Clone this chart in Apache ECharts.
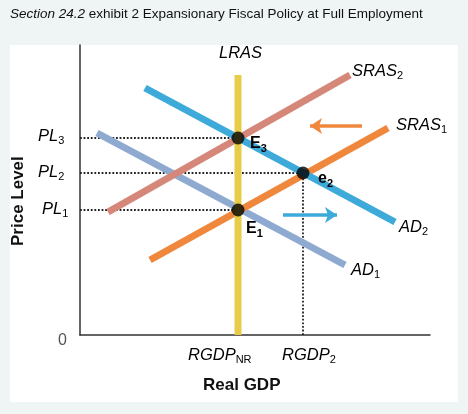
<!DOCTYPE html><html><head><meta charset="utf-8">
<script src="https://cdn.jsdelivr.net/npm/echarts@6/dist/echarts.min.js"></script>
<style>html,body{margin:0;padding:0;background:#eef5f4}#c{width:468px;height:414px}</style></head><body><div id="c"></div>
<script>
// Data in plot units (x: 0-350, y: 0-290)
const LRAS = [[158,0],[158,260]];
const SRAS2 = [[28,123],[270,260]];
const SRAS1 = [[70,75],[308,207]];
const AD2 = [[65,247],[315,113]];
const AD1 = [[17,202],[265,70]];
const equilibria = [[158,197,'E3'],[223,162,'e2'],[158,125,'E1']];
const priceLevels = [['PL3',197],['PL2',162],['PL1',125]];
const rgdpTicks = [['RGDP_NR',158],['RGDP2',223]];

const chart = echarts.init(document.getElementById('c'));
const F = 'Helvetica, Arial, "Liberation Sans", sans-serif';
const sub = {fontSize:11, color:'#555', fontStyle:'normal', padding:[9,0,0,0]};
function line(d,color,name){return {type:'line',name,data:d,symbol:'none',silent:true,lineStyle:{color,width:7,cap:'butt'},z:2};}
const dotted = {type:'dotted',color:'#222',width:1.8};
const series = [
  line(AD1,'#8eaad0','AD1'),
  line(SRAS2,'#d5887a','SRAS2'),
  line(SRAS1,'#ef883c','SRAS1'),
  line(AD2,'#3eaad9','AD2'),
  line(LRAS,'#e8cb47','LRAS'),
  {type:'line',data:[[0,197],[158,197]],symbol:'none',lineStyle:dotted,z:1},
  {type:'line',data:[[0,162],[223,162]],symbol:'none',lineStyle:dotted,z:1},
  {type:'line',data:[[0,125],[158,125]],symbol:'none',lineStyle:dotted,z:1},
  {type:'line',data:[[223,0],[223,162]],symbol:'none',lineStyle:dotted,z:1},
  {type:'scatter',data:equilibria.map(e=>[e[0],e[1]]),symbolSize:13,itemStyle:{color:'#000'},z:5},
  {type:'lines',coordinateSystem:'cartesian2d',symbol:['none','arrow'],symbolSize:12,z:4,
   lineStyle:{width:3.5,opacity:1},
   data:[{coords:[[282,209],[230,209]],lineStyle:{color:'#ef883c'}},{coords:[[203,120],[257,120]],lineStyle:{color:'#3eaad9'}}]}
];
const it = {fontFamily:F,fontStyle:'italic',fontSize:16.5,color:'#555'};
function lab(x,y,main,s){return {type:'text',x,y,z:100,style:{text:'{m|'+main+'}'+(s?'{s|'+s+'}':''),rich:{m:it,s:Object.assign({},sub,{fontFamily:F})}}};}
function blab(x,y,m,s){return {type:'text',x,y,z:100,style:{text:'{m|'+m+'}{s|'+s+'}',rich:{m:{fontFamily:F,fontWeight:'bold',fontSize:16,color:'#111'},s:{fontFamily:F,fontWeight:'bold',fontSize:11,color:'#111',padding:[9,0,0,0]}}}};}
chart.setOption({
  animation:false,
  grid:{left:80,right:38,top:45,bottom:79},
  xAxis:{type:'value',min:0,max:350,axisLine:{lineStyle:{color:'#333',width:1.5}},axisTick:{show:false},axisLabel:{show:false},splitLine:{show:false}},
  yAxis:{type:'value',min:0,max:290,axisLine:{show:true,lineStyle:{color:'#333',width:1.5}},axisTick:{show:false},axisLabel:{show:false},splitLine:{show:false}},
  graphic:[
    {type:'rect',shape:{x:10,y:45,width:448,height:357},style:{fill:'#fff'},z:-10,silent:true},
    {type:'text',x:10,y:7,z:100,style:{text:'{i|Section 24.2} exhibit 2 Expansionary Fiscal Policy at Full Employment',rich:{i:{fontStyle:'italic',fontFamily:F,fontSize:13.5,color:'#111'}},fontFamily:F,fontSize:13.5,fill:'#111'}},
    {type:'text',x:10,y:246,rotation:Math.PI/2,z:100,style:{text:'Price Level',fontFamily:F,fontWeight:'bold',fontSize:17,fill:'#111'}},
    {type:'text',x:203,y:377,z:100,style:{text:'Real GDP',fontFamily:F,fontWeight:'bold',fontSize:17,fill:'#111'}},
    {type:'text',x:58,y:333,z:100,style:{text:'0',fontFamily:F,fontSize:16,fill:'#555'}},
    lab(38,126,'PL','3'), lab(38,162,'PL','2'), lab(42,199,'PL','1'),
    lab(188,345,'RGDP','NR'), lab(282,345,'RGDP','2'),
    lab(219,45,'LRAS'), lab(352,61,'SRAS','2'), lab(396,115,'SRAS','1'),
    lab(399,217,'AD','2'), lab(351,260,'AD','1'),
    blab(250,134,'E','3'), blab(318,169,'e','2'), blab(246,219,'E','1')
  ],
  series
});
</script></body></html>
